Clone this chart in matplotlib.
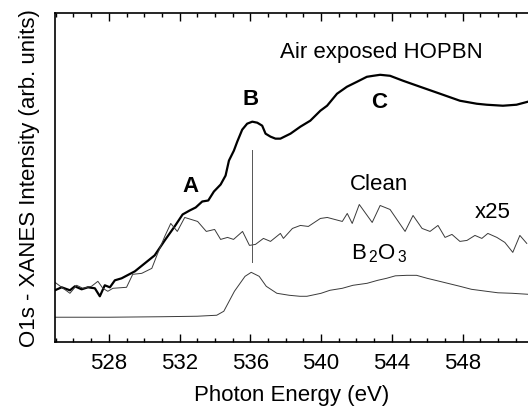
import numpy as np
import matplotlib
matplotlib.use("Agg")
import matplotlib.pyplot as plt
from matplotlib.ticker import MultipleLocator

plt.rcParams['font.family'] = ['Liberation Sans', 'DejaVu Sans']
plt.rcParams['mathtext.fontset'] = 'custom'
plt.rcParams['mathtext.rm'] = 'Liberation Sans'

# air exposed HOPBN (thick line)
air_e = [524.95, 525.33, 525.80, 526.08, 526.46, 526.82, 527.21, 527.49, 527.77, 528.06,
         528.34, 528.72, 529.47, 530.03, 530.59, 531.16, 531.72, 532.17, 532.57, 532.91,
         533.28, 533.62, 533.94, 534.32, 534.60, 534.79, 535.07, 535.26, 535.54, 535.82,
         536.11, 536.39, 536.67, 536.86, 537.14, 537.42, 537.70, 538.27, 538.83, 539.39,
         539.96, 540.34, 540.90, 541.46, 542.03, 542.59, 542.95, 543.34, 543.90, 544.64,
         545.60, 546.73, 547.85, 548.80, 549.36, 550.28, 551.05, 551.69]
air_i = [52, 55, 52, 56, 53, 55, 54, 46, 57, 55,
         62, 64, 71, 79, 87, 102, 116, 128, 132, 135,
         141, 142, 151, 158, 167, 182, 192, 201, 213, 219,
         221, 220, 217, 209, 206, 204, 204, 209, 216, 222,
         232, 237, 249, 256, 261, 266, 267, 268, 267, 262,
         256, 249, 242, 239, 238, 237, 238, 241]

# clean surface x25 (thin noisy line)
clean_e = [524.95, 525.80, 526.18, 526.53, 527.02, 527.38, 527.66, 527.94, 528.23, 529.00,
           529.35, 529.86, 530.43, 530.76, 531.16, 531.50, 531.87, 532.29, 533.02, 533.51,
           533.98, 534.32, 534.71, 535.05, 535.56, 535.95, 536.29, 536.74, 537.14, 537.70,
           537.87, 538.38, 538.83, 539.28, 539.96, 540.35, 541.20, 541.48, 541.76, 542.16,
           542.89, 543.34, 543.90, 544.75, 545.20, 545.71, 546.16, 546.61, 547.01, 547.40,
           547.85, 548.25, 548.70, 549.09, 549.43, 549.94, 550.39, 550.84, 551.24, 551.63]
clean_i = [60, 49, 57, 54, 56, 61, 54, 51, 54, 55,
           68, 69, 74, 89, 106, 119, 111, 125, 121, 111,
           113, 103, 105, 103, 111, 97, 98, 104, 101, 109,
           104, 114, 117, 116, 124, 125, 121, 129, 119, 138,
           120, 137, 133, 111, 127, 114, 111, 117, 105, 108,
           101, 102, 107, 104, 109, 105, 100, 90, 107, 99]

# B2O3 reference
b2o3_e = [524.95, 528.0, 531.0, 533.0, 534.1, 534.5, 535.1, 535.7, 536.05, 536.5,
          536.9, 537.5, 538.2, 538.8, 539.2, 540.0, 540.5, 541.2, 541.8, 542.6,
          543.2, 543.7, 544.2, 544.85, 545.4, 546.0, 546.7, 547.85, 548.5, 549.35,
          550.0, 550.8, 551.7]
b2o3_i = [25, 25, 25.5, 26, 27, 31, 51, 66, 70, 66,
          56, 49, 47, 46, 46, 49, 52, 54, 57, 59,
          62, 64, 66.5, 67, 67, 64, 61, 56, 53, 51,
          49.5, 49, 48]

fs = 16

fig = plt.figure(figsize=(5.28, 4.10), dpi=100)
ax = fig.add_axes([0.104, 0.163, 0.896, 0.803])

ax.plot(air_e, air_i, color='black', lw=1.6)
ax.plot(clean_e, clean_i, color='#3a3a3a', lw=0.7)
ax.plot(b2o3_e, b2o3_i, color='#3a3a3a', lw=0.7)
ax.plot([536.1, 536.1], [80, 193], color='#555555', lw=0.7)

ax.text(543.4, 291, 'Air exposed HOPBN', fontsize=fs, ha='center', va='center')
ax.text(532.6, 157, 'A', fontsize=fs, fontweight='bold', ha='center', va='center')
ax.text(536.0, 244, 'B', fontsize=fs, fontweight='bold', ha='center', va='center')
ax.text(543.3, 241, 'C', fontsize=fs, fontweight='bold', ha='center', va='center')
ax.text(543.3, 159, 'Clean', fontsize=fs, ha='center', va='center')
ax.text(549.7, 131, 'x25', fontsize=fs, ha='center', va='center')
ax.text(543.3, 90, r'B$_{\,2}$O$_{\,3}$', fontsize=fs, ha='center', va='center')

ax.set_xlim(524.95, 551.7)
ax.set_ylim(0, 330)
ax.xaxis.set_major_locator(MultipleLocator(4))
ax.xaxis.set_minor_locator(MultipleLocator(1))
ax.set_yticks([])
ax.spines['right'].set_visible(False)
for s in ['left', 'bottom', 'top']:
    ax.spines[s].set_linewidth(1.2)
ax.tick_params(axis='x', which='both', direction='in', top=True, width=1.0, labelsize=fs, pad=7)
ax.tick_params(axis='x', which='major', length=6)
ax.tick_params(axis='x', which='minor', length=3)

ax.set_xlabel('Photon Energy (eV)', fontsize=fs, labelpad=8)
ax.set_ylabel('O1s - XANES Intensity (arb. units)', fontsize=fs, labelpad=11)

fig.savefig('out.png', dpi=100)
